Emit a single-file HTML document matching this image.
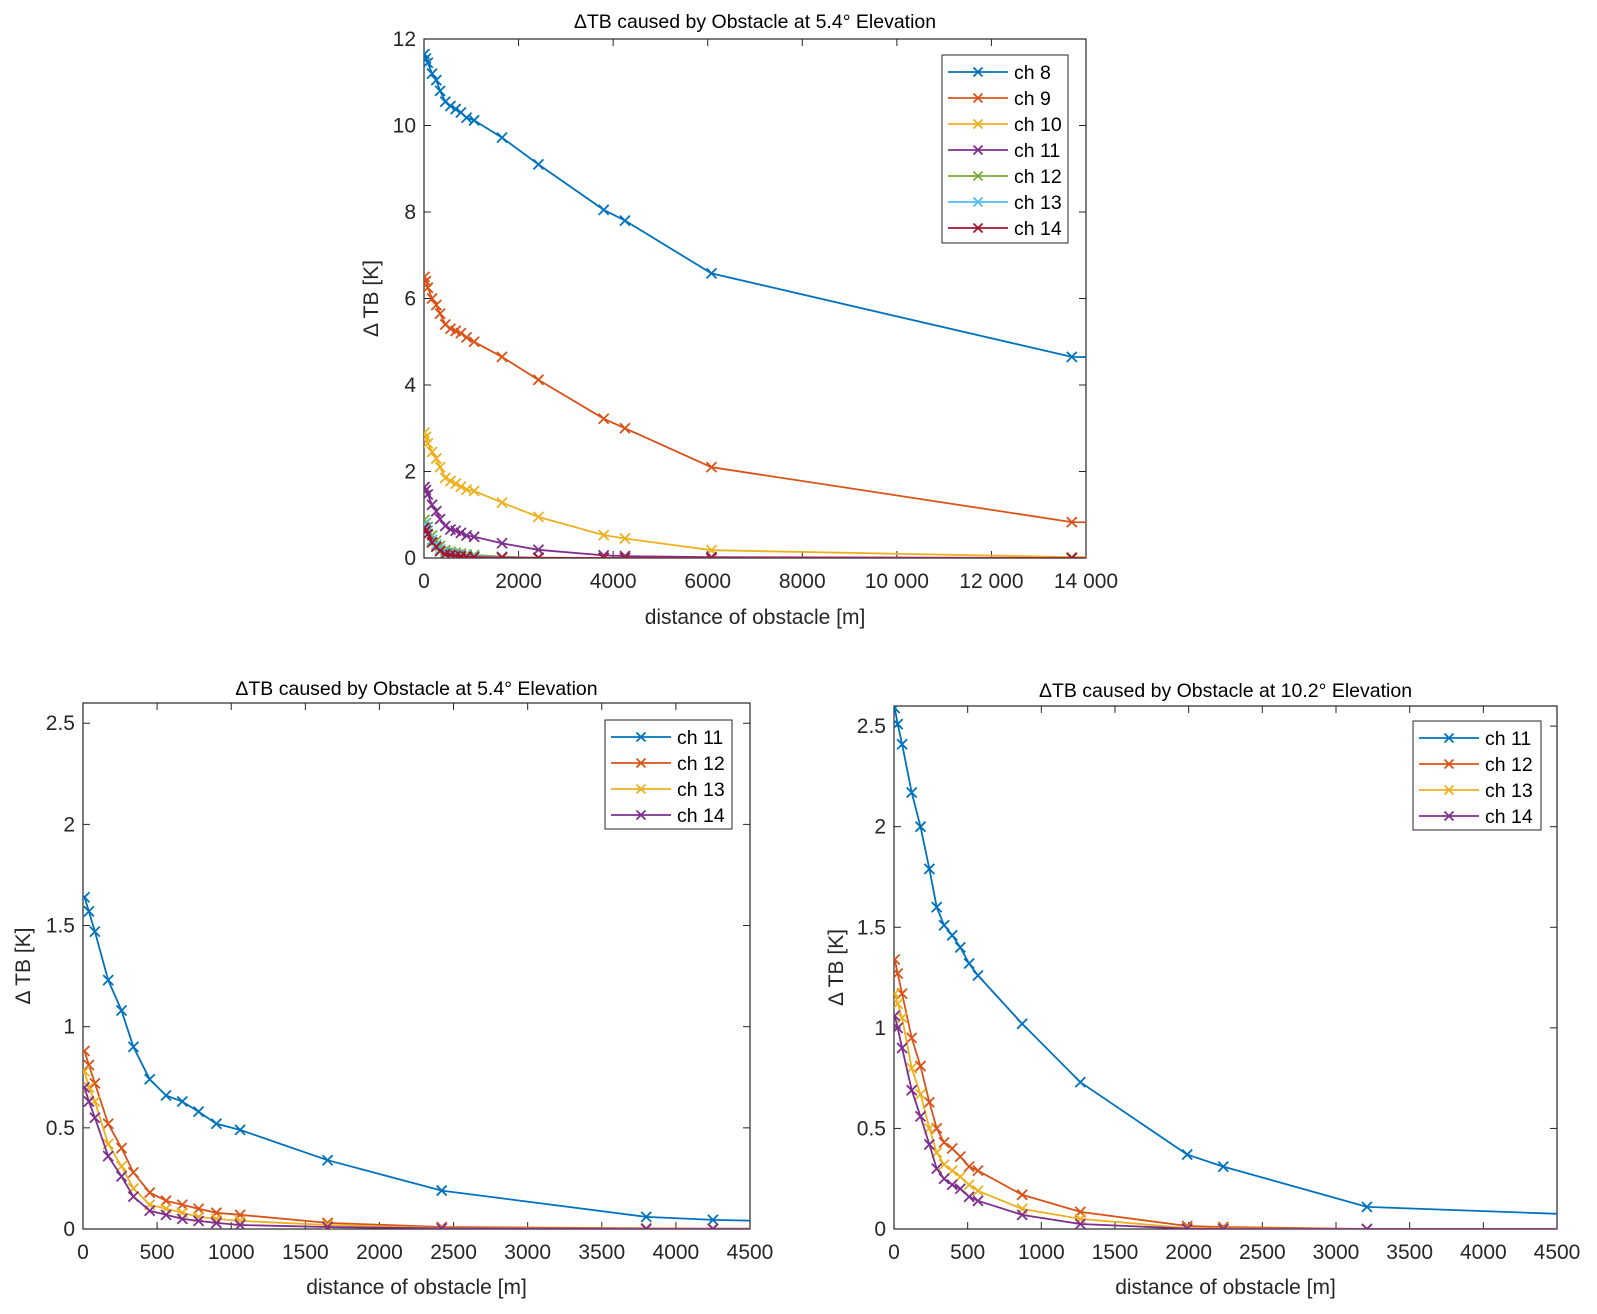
<!DOCTYPE html>
<html><head><meta charset="utf-8"><style>
html,body{margin:0;padding:0;background:#fff;}
svg{display:block;font-family:"Liberation Sans",Arial,sans-serif;}
</style></head><body>
<svg id="fig" width="1597" height="1314" viewBox="0 0 1597 1314" xmlns="http://www.w3.org/2000/svg"></svg>
<script>
// ---- data ----
const dist54 = [10,40,80,170,260,340,450,560,670,780,900,1060,1650,2420,3800,4250,6080,13700,14500];
const ch8  = [11.65,11.55,11.45,11.2,11.05,10.8,10.55,10.45,10.38,10.3,10.18,10.12,9.72,9.1,8.05,7.8,6.58,4.65,4.64];
const ch9  = [6.5,6.4,6.25,6.0,5.85,5.65,5.4,5.3,5.25,5.2,5.1,5.0,4.65,4.12,3.22,3.0,2.1,0.83,0.82];
const ch10 = [2.9,2.8,2.65,2.45,2.3,2.1,1.85,1.78,1.72,1.65,1.58,1.55,1.28,0.95,0.53,0.45,0.18,0.02,0.02];
const ch11 = [1.64,1.57,1.47,1.23,1.08,0.90,0.74,0.66,0.63,0.58,0.52,0.49,0.34,0.19,0.06,0.045,0.02,0.0,0.0];
const ch12 = [0.88,0.81,0.72,0.52,0.40,0.28,0.18,0.14,0.12,0.10,0.08,0.07,0.03,0.01,0.003,0.002,0,0,0];
const ch13 = [0.78,0.70,0.63,0.42,0.31,0.20,0.12,0.10,0.08,0.06,0.05,0.04,0.02,0.005,0,0,0,0,0];
const ch14 = [0.70,0.63,0.55,0.36,0.26,0.16,0.09,0.07,0.05,0.04,0.03,0.02,0.01,0.003,0,0,0,0,0];
const dist102 = [5,25,55,120,180,240,290,340,395,450,510,570,870,1265,1990,2235,3210,4700];
const e11 = [2.59,2.51,2.41,2.17,2.0,1.79,1.6,1.51,1.46,1.40,1.32,1.26,1.02,0.73,0.37,0.31,0.11,0.07];
const e12 = [1.34,1.27,1.17,0.95,0.81,0.63,0.50,0.43,0.40,0.36,0.31,0.29,0.17,0.085,0.015,0.01,0.0,0];
const e13 = [1.17,1.12,1.05,0.80,0.67,0.50,0.38,0.32,0.29,0.26,0.22,0.19,0.10,0.05,0.005,0.003,0,0];
const e14 = [1.06,1.00,0.90,0.69,0.56,0.42,0.30,0.25,0.22,0.20,0.16,0.14,0.07,0.025,0.002,0,0,0];
const xticksTop = [0,2000,4000,6000,8000,10000,12000,14000];
const xtickLabelsTop = ["0","2000","4000","6000","8000","10 000","12 000","14 000"];
const yticksTop = [0,2,4,6,8,10,12];
const xticksBot = [0,500,1000,1500,2000,2500,3000,3500,4000,4500];
const yticksBot = [0,0.5,1,1.5,2,2.5];
const yLabelsBot = ["0","0.5","1","1.5","2","2.5"];
const C = ["#0072BD","#D95319","#EDB120","#7E2F8E","#77AC30","#4DBEEE","#A2142F"];

const NS="http://www.w3.org/2000/svg";
const svg=document.getElementById('fig');
function el(tag,attrs,parent){const e=document.createElementNS(NS,tag);for(const k in attrs)e.setAttribute(k,attrs[k]);(parent||svg).appendChild(e);return e;}
function txt(s,attrs,parent){const t=el('text',attrs,parent);t.textContent=s;return t;}

function axes(cfg){
  const g=el('g',{});
  
  
  const {x0,x1,y0,y1,xmin,xmax,ymin,ymax}=cfg;
  const sx=v=>x0+(v-xmin)/(xmax-xmin)*(x1-x0);
  const sy=v=>y0-(v-ymin)/(ymax-ymin)*(y0-y1);
  const id='clip'+cfg.name;
  const cp=el('clipPath',{id:id},g);el('rect',{x:x0,y:y1,width:x1-x0,height:y0-y1},cp);
  const frame=el('rect',{x:x0,y:y1,width:x1-x0,height:y0-y1,fill:'none',stroke:'#262626','stroke-width':1.2},g);
  
  
  cfg.xticks.forEach((v,i)=>{const x=sx(v);
    el('line',{x1:x,y1:y0,x2:x,y2:y0-7,stroke:'#262626'},g);
    el('line',{x1:x,y1:y1,x2:x,y2:y1+7,stroke:'#262626'},g);
    const t=txt(cfg.xlabels[i],{x:x,y:y0+30,'font-size':21,'text-anchor':'middle',fill:'#262626'},g);
    
    
  });
  cfg.yticks.forEach((v,i)=>{const y=sy(v);
    el('line',{x1:x0,y1:y,x2:x0+7,y2:y,stroke:'#262626'},g);
    el('line',{x1:x1,y1:y,x2:x1-7,y2:y,stroke:'#262626'},g);
    const t=txt(cfg.ylabels[i],{x:x0-8,y:y+7,'font-size':21,'text-anchor':'end',fill:'#262626'},g);
    
    
  });
  const pg=el('g',{'clip-path':'url(#'+id+')'},g);
  cfg.series.forEach((s,si)=>{
    const sg=el('g',{},pg);
    
    
    const pts=s.y.map((v,i)=>sx(s.x[i]).toFixed(1)+','+sy(v).toFixed(1)).join(' ');
    el('polyline',{points:pts,fill:'none',stroke:s.c,'stroke-width':1.8},sg);
    s.y.forEach((v,i)=>{const x=sx(s.x[i]),y=sy(v),r=5;
      const m=el('path',{d:`M${x-r},${y-r}L${x+r},${y+r}M${x-r},${y+r}L${x+r},${y-r}`,stroke:s.c,'stroke-width':1.8},sg);
      
      
    });
  });
  const tt=txt(cfg.title,{x:(x0+x1)/2,y:cfg.titleY,'font-size':19.5,'text-anchor':'middle',fill:'#000'},g);
  
  
  const xl=txt('distance of obstacle [m]',{x:(x0+x1)/2,y:cfg.xlabY,'font-size':21,'text-anchor':'middle',fill:'#262626'},g);
  
  
  const yc=(y0+y1)/2;
  const yl=txt('Δ TB [K]',{x:cfg.ylabX,y:yc,'font-size':21,'text-anchor':'middle',fill:'#262626',transform:`rotate(-90 ${cfg.ylabX} ${yc})`},g);
  
  
  const L=cfg.legend;
  const lg=el('g',{},g);
  
  
  el('rect',{x:L.x,y:L.y,width:L.w,height:L.h,fill:'#fff',stroke:'#262626','stroke-width':1},lg);
  cfg.series.forEach((s,i)=>{const y=L.y+L.first+i*L.step;
    const eg=el('g',{},lg);
    
    
    el('line',{x1:L.x+6,y1:y,x2:L.x+66,y2:y,stroke:s.c,'stroke-width':1.8},eg);
    const mx=L.x+36,r=4.5;
    el('path',{d:`M${mx-r},${y-r}L${mx+r},${y+r}M${mx-r},${y+r}L${mx+r},${y-r}`,stroke:s.c,'stroke-width':1.8},eg);
    txt(s.label,{x:L.x+72,y:y+7,'font-size':19.5,fill:'#000'},eg);
  });
}

axes({name:'top-chart',x0:424,x1:1086,y0:558,y1:39,xmin:0,xmax:14000,ymin:0,ymax:12,
  xticks:xticksTop,xlabels:xtickLabelsTop,yticks:yticksTop,ylabels:yticksTop.map(String),
  title:'ΔTB caused by Obstacle at 5.4° Elevation',titleY:28,xlabY:624,ylabX:378,
  legend:{x:942,y:55,w:126,h:188,first:17,step:26},
  series:[
    {label:'ch 8',x:dist54,y:ch8,c:C[0]},{label:'ch 9',x:dist54,y:ch9,c:C[1]},
    {label:'ch 10',x:dist54,y:ch10,c:C[2]},{label:'ch 11',x:dist54,y:ch11,c:C[3]},
    {label:'ch 12',x:dist54,y:ch12,c:C[4]},{label:'ch 13',x:dist54,y:ch13,c:C[5]},
    {label:'ch 14',x:dist54,y:ch14,c:C[6]}]});

axes({name:'bottom-left-chart',x0:83,x1:750,y0:1229,y1:703,xmin:0,xmax:4500,ymin:0,ymax:2.6,
  xticks:xticksBot,xlabels:xticksBot.map(String),yticks:yticksBot,ylabels:yLabelsBot,
  title:'ΔTB caused by Obstacle at 5.4° Elevation',titleY:695,xlabY:1294,ylabX:30,
  legend:{x:605,y:720,w:127,h:109,first:17,step:26},
  series:[
    {label:'ch 11',x:dist54,y:ch11,c:C[0]},{label:'ch 12',x:dist54,y:ch12,c:C[1]},
    {label:'ch 13',x:dist54,y:ch13,c:C[2]},{label:'ch 14',x:dist54,y:ch14,c:C[3]}]});

axes({name:'bottom-right-chart',x0:894,x1:1557,y0:1229,y1:706,xmin:0,xmax:4500,ymin:0,ymax:2.6,
  xticks:xticksBot,xlabels:xticksBot.map(String),yticks:yticksBot,ylabels:yLabelsBot,
  title:'ΔTB caused by Obstacle at 10.2° Elevation',titleY:697,xlabY:1294,ylabX:843,
  legend:{x:1413,y:721,w:128,h:109,first:17,step:26},
  series:[
    {label:'ch 11',x:dist102,y:e11,c:C[0]},{label:'ch 12',x:dist102,y:e12,c:C[1]},
    {label:'ch 13',x:dist102,y:e13,c:C[2]},{label:'ch 14',x:dist102,y:e14,c:C[3]}]});
</script>
</body></html>
